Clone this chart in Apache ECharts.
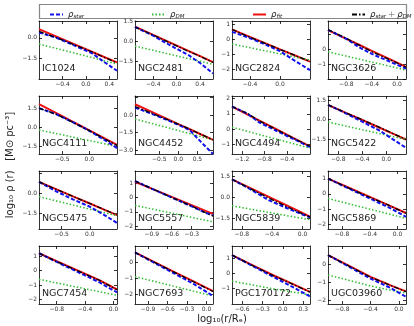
<!DOCTYPE html>
<html><head><meta charset="utf-8">
<script src="https://cdn.jsdelivr.net/npm/echarts@6/dist/echarts.min.js"></script>
<style>html,body{margin:0;padding:0;background:#fff}#c{width:414px;height:326px}</style>
</head><body><div id="c"></div>
<script>
const galaxies = ['IC1024','NGC2481','NGC2824','NGC3626','NGC4111','NGC4452','NGC4494','NGC5422','NGC5475','NGC5557','NGC5839','NGC5869','NGC7454','NGC7693','PGC170172','UGC03960'];
const xRange = [[-0.8,0.53],[-0.71,0.62],[-0.64,0.4],[-1.09,0.14],[-0.93,0.51],[-1.14,0.91],[-1.38,0.01],[-0.97,0.33],[-0.9,0.48],[-1.15,0.02],[-0.93,0.1],[-1.0,0.12],[-1.05,0.05],[-1.1,0.1],[-0.75,0.4],[-1.0,0.1]];
const yRange = [[-2.95,1.2],[-2.8,1.55],[-2.65,1.2],[-2.0,1.93],[-2.1,2.45],[-3.3,1.6],[-1.6,2.15],[-2.6,1.8],[-2.65,1.65],[-2.2,1.85],[-2.3,1.9],[-2.3,1.5],[-2.3,1.7],[-2.6,1.0],[-2.0,1.8],[-2.2,1.0]];
const xTicks = [[-0.4,0,0.4],[-0.4,0,0.4],[-0.4,0],[-0.8,-0.4,0],[-0.5,0],[-0.5,0,0.5],[-1.2,-0.8,-0.4],[-0.8,-0.4,0],[-0.5,0],[-0.9,-0.6,-0.3],[-0.8,-0.4,0],[-0.8,-0.4,0],[-0.8,-0.4,0],[-0.9,-0.6,-0.3,0],[-0.6,-0.3,0,0.3],[-0.8,-0.4,0]];
const yTicks = [[-3,-1.5,0,1.5],[-1.5,0,1.5],[-2,-1,0,1],[-2,-1,0,1],[-1.5,0,1.5],[-3,-1.5,0,1.5],[-1,0,1,2],[-1.5,0,1.5],[-1.5,0,1.5],[-2,-1,0,1],[-1.5,0,1.5],[-2,-1,0,1],[-2,-1,0,1],[-2,-1,0],[-1,0,1],[-2,-1,0]];
const yLabels = [[-1.5,0],[-1.5,0,1.5],[-2,-1,0,1],[-1,0],[-1.5,0,1.5],[-3,-1.5,0],[-1,0,1,2],[-1.5,0,1.5],[-1.5,0],[-2,-1,0,1],[-1.5,0,1.5],[-2,-1,0,1],[-2,-1,0,1],[-2,-1,0],[-1,0,1],[-2,-1,0]];
const yDecimals = [1,1,0,0,1,1,0,1,1,0,1,0,0,0,0,0];

const xSamples = [
 [-0.8,-0.5,-0.2,0.1,0.3,0.53],
 [-0.71,-0.4,-0.1,0.2,0.4,0.62],
 [-0.64,-0.45,-0.2,0.0,0.2,0.4],
 [-1.09,-0.8,-0.6,-0.4,-0.1,0.14],
 [-0.93,-0.6,-0.3,0.0,0.3,0.51],
 [-1.14,-0.7,-0.3,0.1,0.3,0.6,0.91],
 [-1.38,-1.1,-0.9,-0.6,-0.3,0.01],
 [-0.97,-0.7,-0.4,-0.1,0.1,0.33],
 [-0.9,-0.6,-0.3,0.0,0.25,0.48],
 [-1.15,-0.9,-0.6,-0.3,-0.1,0.02],
 [-0.93,-0.7,-0.45,-0.2,0.0,0.1],
 [-1.0,-0.7,-0.4,-0.1,0.12],
 [-1.05,-0.8,-0.5,-0.2,0.05],
 [-1.1,-0.8,-0.5,-0.2,0.1],
 [-0.75,-0.45,-0.15,0.15,0.4],
 [-1.0,-0.7,-0.4,-0.1,0.1]
];
const rhoFit = [
 [0.62,0.08,-0.46,-1.0,-1.36,-1.76],
 [1.13,0.51,-0.09,-0.69,-1.09,-1.53],
 [0.64,0.25,-0.27,-0.68,-1.09,-1.5],
 [1.31,0.72,0.32,-0.09,-0.69,-1.18],
 [1.81,1.08,0.41,-0.25,-0.92,-1.38],
 [0.9,0.26,-0.33,-0.92,-1.21,-1.65,-2.1],
 [1.47,0.95,0.58,0.02,-0.54,-1.11],
 [1.13,0.58,-0.02,-0.63,-1.04,-1.5],
 [0.84,0.31,-0.23,-0.76,-1.21,-1.62],
 [1.1,0.62,0.04,-0.53,-0.92,-1.15],
 [1.3,0.7,0.04,-0.61,-1.14,-1.4],
 [1.0,0.4,-0.2,-0.8,-1.25],
 [1.2,0.65,0.0,-0.65,-1.3],
 [0.6,-0.0,-0.6,-1.2,-1.8],
 [1.2,0.55,-0.1,-0.7,-1.2],
 [0.5,-0.1,-0.7,-1.2,-1.5]
];
const rhoSum = [
 [0.45,0.0,-0.5,-1.0,-1.38,-1.8],
 [1.1,0.5,-0.12,-0.72,-1.1,-1.55],
 [0.64,0.22,-0.28,-0.68,-1.08,-1.5],
 [1.35,0.75,0.3,-0.15,-0.72,-1.2],
 [1.5,1.0,0.38,-0.27,-0.95,-1.42],
 [0.7,0.15,-0.38,-0.92,-1.2,-1.65,-2.1],
 [1.47,1.02,0.55,0.0,-0.55,-1.1],
 [1.13,0.58,0.0,-0.6,-1.02,-1.5],
 [0.84,0.3,-0.23,-0.76,-1.2,-1.6],
 [1.15,0.62,0.0,-0.6,-1.05,-1.3],
 [1.3,0.65,-0.05,-0.7,-1.2,-1.42],
 [1.0,0.38,-0.22,-0.8,-1.28],
 [1.2,0.62,-0.02,-0.66,-1.32],
 [0.6,-0.02,-0.62,-1.22,-1.82],
 [1.2,0.52,-0.12,-0.72,-1.22],
 [0.5,-0.12,-0.72,-1.2,-1.52]
];
const rhoStar = [
 [0.38,0.0,-0.55,-1.1,-1.7,-2.36],
 [1.1,0.45,-0.3,-1.0,-1.6,-2.38],
 [0.48,0.15,-0.35,-0.8,-1.45,-2.06],
 [1.33,0.72,0.15,-0.3,-0.85,-1.3],
 [1.5,1.0,0.38,-0.28,-1.05,-1.64],
 [0.62,0.1,-0.42,-0.98,-1.3,-2.3,-3.3],
 [1.47,1.0,0.45,-0.08,-0.6,-1.15],
 [1.13,0.55,-0.15,-0.85,-1.45,-2.13],
 [0.84,0.15,-0.45,-1.0,-1.6,-2.2],
 [1.15,0.62,0.0,-0.62,-1.05,-1.25],
 [1.3,0.62,-0.2,-0.8,-1.25,-1.45],
 [1.0,0.35,-0.3,-0.95,-1.5],
 [1.2,0.6,-0.1,-0.8,-1.5],
 [0.6,-0.05,-0.7,-1.35,-2.1],
 [1.2,0.5,-0.2,-0.9,-1.5],
 [0.5,-0.15,-0.8,-1.35,-1.8]
];
const rhoDM = [
 [-0.45,-0.77,-1.09,-1.41,-1.63,-1.88],
 [-0.33,-0.65,-0.96,-1.27,-1.47,-1.7],
 [-0.33,-0.52,-0.78,-0.98,-1.19,-1.39],
 [-0.16,-0.45,-0.65,-0.85,-1.15,-1.4],
 [-0.21,-0.51,-0.78,-1.05,-1.32,-1.51],
 [-0.34,-0.72,-1.06,-1.41,-1.58,-1.84,-2.1],
 [0.13,-0.14,-0.34,-0.63,-0.92,-1.22],
 [-0.18,-0.45,-0.76,-1.06,-1.27,-1.5],
 [-0.25,-0.56,-0.87,-1.18,-1.43,-1.67],
 [-0.55,-0.8,-1.09,-1.39,-1.58,-1.7],
 [-0.62,-0.85,-1.09,-1.34,-1.53,-1.63],
 [-0.3,-0.65,-1.0,-1.35,-1.6],
 [-0.6,-0.85,-1.15,-1.45,-1.7],
 [-0.9,-1.2,-1.5,-1.8,-2.1],
 [-0.5,-0.75,-1.0,-1.22,-1.4],
 [-0.6,-0.9,-1.2,-1.45,-1.6]
];

const colLeft = [39,135,232,328], rowTop = [21,96,171,246], PW = 78, PH = 58;
const fmt = (v,d) => (Math.abs(v)<1e-9?0:v).toFixed(d).replace('-','\u2212');
const lineCol = '#000';
const grids=[], xAxes=[], yAxes=[], series=[], graphics=[];
galaxies.forEach((g,i)=>{
  const r=Math.floor(i/4), c=i%4;
  grids.push({left:colLeft[c], top:rowTop[r], width:PW, height:PH});
  const xb = pos => ({type:'value', gridIndex:i, position:pos, min:xRange[i][0], max:xRange[i][1],
    axisLine:{onZero:false, lineStyle:{color:lineCol,width:0.8}},
    axisTick:{show:true, inside:true, length:3, customValues:xTicks[i], lineStyle:{color:lineCol,width:0.8}},
    axisLabel:{show:pos==='bottom', customValues:xTicks[i], fontSize:6, color:'#333', margin:2, fontFamily:'DejaVu Sans', formatter:v=>fmt(v,1)},
    splitLine:{show:false}});
  const yb = pos => ({type:'value', gridIndex:i, position:pos, min:yRange[i][0], max:yRange[i][1],
    axisLine:{onZero:false, lineStyle:{color:lineCol,width:0.8}},
    axisTick:{show:true, inside:true, length:3, customValues:yTicks[i], lineStyle:{color:lineCol,width:0.8}},
    axisLabel:{show:pos==='left', customValues:yLabels[i], fontSize:6, color:'#333', margin:2, fontFamily:'DejaVu Sans', formatter:v=>fmt(v,yDecimals[i])},
    splitLine:{show:false}});
  xAxes.push(xb('bottom'), xb('top'));
  yAxes.push(yb('left'), yb('right'));
  const mk = (name, vals, ls) => ({name, type:'line', xAxisIndex:2*i, yAxisIndex:2*i, symbol:'none', silent:true,
    data: xSamples[i].map((x,k)=>[x, vals[i][k]]), lineStyle:ls, itemStyle:{color:ls.color}, animation:false, clip:true});
  series.push(mk('fit', rhoFit, {color:'#ee1111', width:2}));
  series.push(mk('DM', rhoDM, {color:'#33bb33', width:1.5, type:[1.5,2]}));
  series.push(mk('star', rhoStar, {color:'#1111ee', width:2, type:[4,2]}));
  series.push(mk('sum', rhoSum, {color:'#000', width:1.3, type:[5,2,1.5,2]}));
  graphics.push({type:'text', left:colLeft[c]+3, top:rowTop[r]+PH-15, silent:true,
    style:{text:g, fontSize:9.5, fill:'#222', fontFamily:'DejaVu Sans'}});
});
const rich = {r:{fontSize:8.5, fontStyle:'italic', lineHeight:11, fontFamily:'DejaVu Sans', color:'#222'},
              s:{fontSize:5.5, fontStyle:'italic', lineHeight:6, verticalAlign:'bottom', fontFamily:'DejaVu Sans', color:'#222'},
              p:{fontSize:8.5, lineHeight:11, color:'#888', fontFamily:'DejaVu Sans', padding:[0,2,0,2]}};
const legendText = {star:'{r|ρ}{s|star}', DM:'{r|ρ}{s|DM}', fit:'{r|ρ}{s|fit}', sum:'{r|ρ}{s|star}{p|+}{r|ρ}{s|DM}'};
const legendLeft = {star:44, DM:146, fit:247, sum:346};
const legends = ['star','DM','fit','sum'].map(n=>({data:[n], left:legendLeft[n], top:5, itemWidth:13, itemHeight:8, itemGap:4,
  itemStyle:{opacity:0}, formatter: nm=>legendText[nm], textStyle:{rich}, selectedMode:false}));
graphics.push({type:'rect', silent:true, shape:{x:39.5,y:4.5,width:367,height:14}, style:{fill:'none', stroke:'#888', lineWidth:1.2}});
graphics.push({type:'text', silent:true, x:222, y:319, style:{text:'log\u2081\u2080(r/R\u2091)', fontSize:10, fill:'#222', align:'center', verticalAlign:'middle', fontFamily:'DejaVu Sans'}});
graphics.push({type:'text', silent:true, x:10, y:165, rotation:Math.PI/2, style:{text:'log\u2081\u2080 \u03c1 (r)   [M\u2299 pc\u207b\u00b3]', fontSize:10, fill:'#222', align:'center', verticalAlign:'middle', fontFamily:'DejaVu Sans'}});
const chart = echarts.init(document.getElementById('c'), null, {renderer:'canvas'});
chart.setOption({animation:false, backgroundColor:'#fff', grid:grids, xAxis:xAxes, yAxis:yAxes, series, legend:legends, graphic:graphics});
</script></body></html>
